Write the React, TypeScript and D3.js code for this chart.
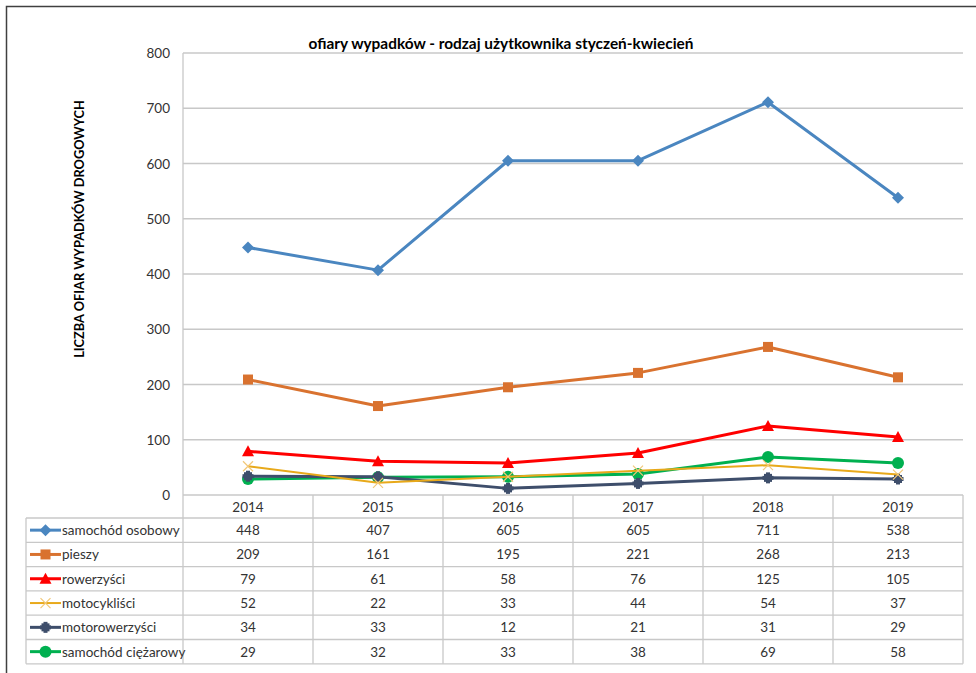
import React from 'react';
import * as d3 from 'd3';

const years = ['2014', '2015', '2016', '2017', '2018', '2019'];
const seriesNames = ['samochód osobowy', 'pieszy', 'rowerzyści', 'motocykliści', 'motorowerzyści', 'samochód ciężarowy'];
const osobowy = [448, 407, 605, 605, 711, 538];
const pieszy = [209, 161, 195, 221, 268, 213];
const rowerzysci = [79, 61, 58, 76, 125, 105];
const motocyklisci = [52, 22, 33, 44, 54, 37];
const motorowerzysci = [34, 33, 12, 21, 31, 29];
const ciezarowy = [29, 32, 33, 38, 69, 58];
const yTicks = [0, 100, 200, 300, 400, 500, 600, 700, 800];

const series = [
  { name: seriesNames[0], values: osobowy, color: '#4a86c0', width: 3, marker: 'diamond' },
  { name: seriesNames[1], values: pieszy, color: '#d9722f', width: 3, marker: 'square' },
  { name: seriesNames[2], values: rowerzysci, color: '#ff0000', width: 3, marker: 'triangle' },
  { name: seriesNames[3], values: motocyklisci, color: '#e8a91a', width: 2, marker: 'x' },
  { name: seriesNames[4], values: motorowerzysci, color: '#3e4e6b', width: 3, marker: 'star' },
  { name: seriesNames[5], values: ciezarowy, color: '#00b050', width: 3, marker: 'circle' },
];

const W = 976;
const H = 673;
const plot = { left: 183, right: 963, top: 53, bottom: 495 };
const FONT = 'Lato, "Open Sans", sans-serif';

function Marker({ type, x, y, color }: { type: string; x: number; y: number; color: string }) {
  if (type === 'diamond') {
    return <path d={`M${x},${y - 6}L${x + 6},${y}L${x},${y + 6}L${x - 6},${y}Z`} fill={color} />;
  }
  if (type === 'square') {
    return <rect x={x - 5} y={y - 5} width={10} height={10} fill={color} />;
  }
  if (type === 'triangle') {
    return <path d={`M${x},${y - 6}L${x + 6},${y + 5}L${x - 6},${y + 5}Z`} fill={color} />;
  }
  if (type === 'x') {
    return (
      <path d={`M${x - 5},${y - 5}L${x + 5},${y + 5}M${x + 5},${y - 5}L${x - 5},${y + 5}`} stroke="#f2c879" strokeWidth={1.2} fill="none" />
    );
  }
  if (type === 'star') {
    return (
      <g fill={color}>
        <rect x={x - 4} y={y - 4} width={8} height={8} />
        <rect x={x - 2} y={y - 5.5} width={4} height={11} />
        <rect x={x - 5.5} y={y - 2} width={11} height={4} />
      </g>
    );
  }
  return <circle cx={x} cy={y} r={6} fill={color} />;
}

export default function App() {
  const x = d3.scaleBand<string>().domain(years).range([plot.left, plot.right]);
  const y = d3.scaleLinear().domain([0, 800]).range([plot.bottom, plot.top]);
  const cx = (yr: string) => (x(yr) as number) + x.bandwidth() / 2;
  const line = d3
    .line<number>()
    .x((_, i) => cx(years[i]))
    .y((d) => y(d));

  const tableLeft = 26;
  const headerH = 23;
  const rowH = 24.3;
  const tableTop = plot.bottom;
  const tableBottom = tableTop + headerH + rowH * series.length;
  const grid = '#c8c8c8';

  return (
    <div style={{ position: 'absolute', left: 0, top: 0 }}>
      <svg width={W} height={H} style={{ display: 'block', background: '#fff' }}>
        <rect x={6.5} y={6.5} width={W + 10} height={H + 10} fill="none" stroke="#404040" strokeWidth={1.5} />
        <text x={501} y={49} textAnchor="middle" fontFamily={FONT} fontWeight="bold" fontSize={15.4} fill="#000">
          ofiary wypadków - rodzaj użytkownika styczeń-kwiecień
        </text>
        <text
          transform={`translate(84,229) rotate(-90)`}
          textAnchor="middle"
          fontFamily={FONT}
          fontWeight="bold"
          fontSize={12.8}
          fill="#000"
        >
          LICZBA OFIAR WYPADKÓW DROGOWYCH
        </text>
        {yTicks.map((t) => (
          <g key={t}>
            {t > 0 && <line x1={plot.left} x2={plot.right} y1={y(t)} y2={y(t)} stroke={grid} strokeWidth={1.3} />}
            <text x={170} y={y(t) + 5} textAnchor="end" fontFamily={FONT} fontSize={13.5} fill="#333">
              {t}
            </text>
          </g>
        ))}
        <line x1={plot.left} x2={plot.left} y1={plot.top} y2={tableBottom} stroke={grid} strokeWidth={1.3} />

        {/* data table */}
        <line x1={plot.left} x2={plot.right} y1={tableTop} y2={tableTop} stroke={grid} strokeWidth={1.3} />
        {d3.range(series.length + 1).map((i) => {
          const yy = tableTop + headerH + rowH * i;
          return <line key={i} x1={tableLeft} x2={plot.right} y1={yy} y2={yy} stroke={grid} strokeWidth={1.3} />;
        })}
        <line x1={tableLeft} x2={tableLeft} y1={tableTop + headerH} y2={tableBottom} stroke={grid} strokeWidth={1.3} />
        {years.map((yr) => (
          <line
            key={yr}
            x1={(x(yr) as number) + x.bandwidth()}
            x2={(x(yr) as number) + x.bandwidth()}
            y1={tableTop}
            y2={tableBottom}
            stroke={grid}
            strokeWidth={1.3}
          />
        ))}
        {years.map((yr) => (
          <text key={yr} x={cx(yr)} y={tableTop + headerH / 2 + 5} textAnchor="middle" fontFamily={FONT} fontSize={13.5} fill="#333">
            {yr}
          </text>
        ))}
        {series.map((s, i) => {
          const ry = tableTop + headerH + rowH * i + rowH / 2;
          return (
            <g key={s.name}>
              <line x1={30} x2={61} y1={ry} y2={ry} stroke={s.color} strokeWidth={s.width} />
              <Marker type={s.marker} x={45.5} y={ry} color={s.color} />
              <text x={62} y={ry + 5} fontFamily={FONT} fontSize={13.5} fill="#333">
                {s.name}
              </text>
              {s.values.map((v, j) => (
                <text key={j} x={cx(years[j])} y={ry + 5} textAnchor="middle" fontFamily={FONT} fontSize={13.5} fill="#333">
                  {v}
                </text>
              ))}
            </g>
          );
        })}

        {/* lines */}
        {[...series].reverse().map((s) => (
          <g key={s.name}>
            <path d={line(s.values) || ''} fill="none" stroke={s.color} strokeWidth={s.width} strokeLinejoin="round" />
            {s.values.map((v, j) => (
              <Marker key={j} type={s.marker} x={cx(years[j])} y={y(v)} color={s.color} />
            ))}
          </g>
        ))}
      </svg>
    </div>
  );
}
